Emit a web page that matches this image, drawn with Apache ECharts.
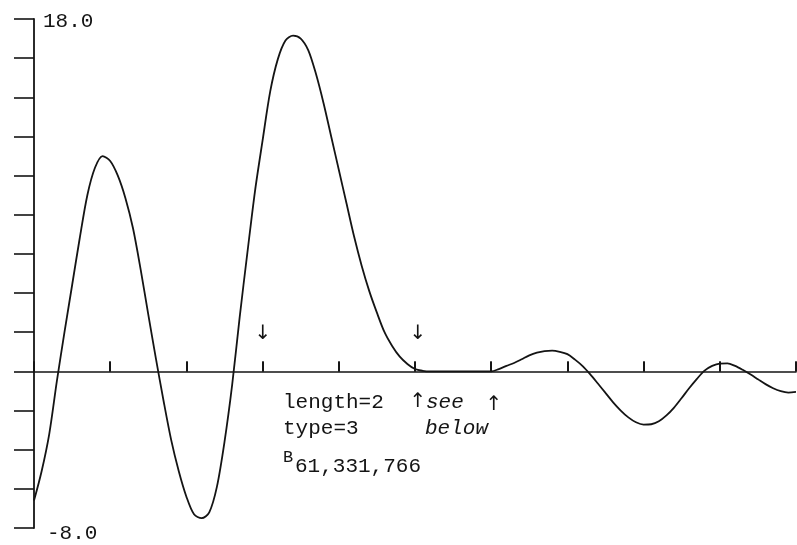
<!DOCTYPE html>
<html>
<head>
<meta charset="utf-8">
<script src="https://cdn.jsdelivr.net/npm/echarts@6/dist/echarts.min.js"></script>
<style>
  html, body { margin: 0; padding: 0; background: #fff; }
  #main { width: 797px; height: 545px; }
</style>
</head>
<body>
<div id="main"></div>
<script>
// curve, one reading every 0.1 along x
const xVals = [0.0, 0.1, 0.2, 0.3, 0.4, 0.5, 0.6, 0.7, 0.8, 0.9,
  1.0, 1.1, 1.2, 1.3, 1.4, 1.5, 1.6, 1.7, 1.8, 1.9,
  2.0, 2.1, 2.2, 2.3, 2.4, 2.5, 2.6, 2.7, 2.8, 2.9,
  3.0, 3.1, 3.2, 3.3, 3.4, 3.5, 3.6, 3.7, 3.8, 3.9,
  4.0, 4.1, 4.2, 4.3, 4.4, 4.5, 4.6, 4.7, 4.8, 4.9,
  5.0, 5.1, 5.2, 5.3, 5.4, 5.5, 5.6, 5.7, 5.8, 5.9,
  6.0, 6.1, 6.2, 6.3, 6.4, 6.5, 6.6, 6.7, 6.8, 6.9,
  7.0, 7.1, 7.2, 7.3, 7.4, 7.5, 7.6, 7.7, 7.8, 7.9,
  8.0, 8.1, 8.2, 8.3, 8.4, 8.5, 8.6, 8.7, 8.8, 8.9,
  9.0, 9.1, 9.2, 9.3, 9.4, 9.5, 9.6, 9.7, 9.8, 9.9, 10.0];
const yVals = [-6.6, -5.1, -3.2, -0.5, 2.0, 4.4, 6.8, 9.0, 10.4, 11.0,
  10.75, 10.0, 8.85, 7.3, 5.2, 2.9, 0.65, -1.5, -3.5, -5.1,
  -6.4, -7.3, -7.5, -7.2, -5.9, -3.6, -0.7, 2.8, 6.05, 9.2,
  11.8, 14.3, 15.95, 16.9, 17.15, 17.0, 16.4, 15.2, 13.7, 12.0,
  10.3, 8.6, 6.9, 5.4, 4.1, 3.0, 2.0, 1.3, 0.75, 0.38,
  0.12, 0.03, 0, 0, 0, 0, 0, 0, 0, 0,
  0, 0.12, 0.28, 0.43, 0.62, 0.82, 0.96, 1.04, 1.06, 1.0,
  0.88, 0.6, 0.27, -0.15, -0.62, -1.1, -1.58, -2.0, -2.35, -2.6,
  -2.72, -2.7, -2.55, -2.25, -1.85, -1.36, -0.85, -0.38, 0.04, 0.28,
  0.4, 0.41, 0.28, 0.08, -0.15, -0.4, -0.65, -0.86, -1.01, -1.08, -1.05];

// axis range and labelled ends
const yMin = -8, yMax = 18, yStep = 2;
const xMin = 0, xMax = 10, xStep = 1;
const yEndLabels = ['-8.0', '18.0'];

const ink = '#141414';
const mono = '"Liberation Mono", "DejaVu Sans Mono", monospace';
const arrowFont = '20px "DejaVu Sans"';

let points = xVals.map((x, i) => [x, yVals[i]]);

// two x axes on zero so the ticks cross the line
function xAxisPart(inside) {
  return {
    type: 'value', min: xMin, max: xMax, interval: xStep,
    axisLine: { show: inside, onZero: true, onZeroAxisIndex: 0, lineStyle: { color: ink, width: 1.6 } },
    axisTick: { show: true, inside: inside, length: 10, lineStyle: { color: ink, width: 1.8 } },
    axisLabel: { show: false },
    splitLine: { show: false }
  };
}

function note(x, y, text, font, align) {
  return { type: 'text', x: x, y: y, style: { text: text, font: font, fill: ink, align: align || 'left', verticalAlign: 'middle' } };
}

let chart = echarts.init(document.getElementById('main'));
let option = {
  animation: false,
  backgroundColor: '#fff',
  grid: { left: 34, right: 1, top: 19, bottom: 17 },
  xAxis: [xAxisPart(true), xAxisPart(false)],
  yAxis: {
    type: 'value', min: yMin, max: yMax, interval: yStep,
    axisLine: { show: true, onZero: false, lineStyle: { color: ink, width: 1.8 } },
    axisTick: { show: true, length: 20, lineStyle: { color: ink, width: 1.6 } },
    splitLine: { show: false },
    axisLabel: {
      inside: true, margin: 9, color: ink,
      fontFamily: mono, fontSize: 21,
      formatter: function (v) {
        if (v === yMax) return '{hi|' + yEndLabels[1] + '}';
        if (v === yMin) return '{lo|' + yEndLabels[0] + '}';
        return '';
      },
      rich: {
        hi: { fontFamily: mono, fontSize: 21, color: ink, padding: [5, 0, 0, 0] },
        lo: { fontFamily: mono, fontSize: 21, color: ink, padding: [11, 0, 0, 4] }
      }
    }
  },
  series: [{
    type: 'line',
    data: points,
    showSymbol: false,
    smooth: 0.3,
    lineStyle: { color: ink, width: 1.8 }
  }],
  graphic: [
    note(263, 334, '↓', arrowFont, 'center'),
    note(418, 334, '↓', arrowFont, 'center'),
    note(418, 402, '↑', arrowFont, 'center'),
    note(494, 405, '↑', arrowFont, 'center'),
    note(283, 402.5, 'length=2', '21px ' + mono),
    note(283, 428.5, 'type=3', '21px ' + mono),
    note(283, 457.5, 'B', '17px ' + mono),
    note(295, 466.5, '61,331,766', '21px ' + mono),
    note(426, 402.5, 'see', 'italic 21px ' + mono),
    note(425, 428.5, 'below', 'italic 21px ' + mono)
  ]
};
chart.setOption(option);
</script>
</body>
</html>
